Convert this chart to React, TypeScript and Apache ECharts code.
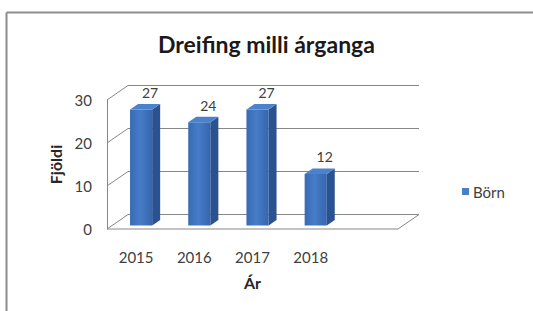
import React, { useEffect, useRef } from "react";
import * as echarts from "echarts";

const categories = ["2015", "2016", "2017", "2018", ""];
const values = [27, 24, 27, 12];
const yTicks = [0, 10, 20, 30];
const seriesName = "Börn";
const titleText = "Dreifing milli árganga";
const xName = "Ár";
const yName = "Fjöldi";

const FONT = "Lato, 'Noto Sans', sans-serif";
const GRID_COLOR = "#878787";
const DX = 21;
const DY = -14.5;

export default function App() {
  const ref = useRef<HTMLDivElement>(null);

  useEffect(() => {
    document.body.style.margin = "0";
    const chart = echarts.init(ref.current!, undefined, { renderer: "svg" });

    const frameRender = (params: any, api: any) => {
      const cs = params.coordSys;
      const x0 = cs.x;
      const x1 = cs.x + cs.width;
      const children: any[] = [];
      const ls = { stroke: GRID_COLOR, lineWidth: 1 };
      yTicks.forEach((v) => {
        const y = api.coord([0, v])[1];
        children.push({ type: "line", shape: { x1: x0 + DX, y1: y + DY, x2: x1 + DX, y2: y + DY }, style: ls });
        children.push({ type: "line", shape: { x1: x0, y1: y, x2: x0 + DX, y2: y + DY }, style: ls });
      });
      const yb = api.coord([0, 0])[1];
      children.push({ type: "line", shape: { x1: x0, y1: yb, x2: x1, y2: yb }, style: ls });
      children.push({ type: "line", shape: { x1: x1, y1: yb, x2: x1 + DX, y2: yb + DY }, style: ls });
      return { type: "group", children };
    };

    const barRender = (params: any, api: any) => {
      const i = api.value(0);
      const v = api.value(1);
      const top = api.coord([i, v]);
      const base = api.coord([i, 0]);
      const band = api.size([1, 0])[0];
      const w = band * 0.38;
      const fx = 5;
      const fy = -3.5;
      const ddx = 8;
      const ddy = -5.5;
      const xl = top[0] - w / 2 + fx;
      const xr = xl + w;
      const yt = top[1] + fy;
      const yb = base[1] + fy;
      const front = new echarts.graphic.LinearGradient(0, 0, 1, 0, [
        { offset: 0, color: "#386ab4" },
        { offset: 0.45, color: "#467cc8" },
        { offset: 1, color: "#3665ae" },
      ]);
      return {
        type: "group",
        children: [
          { type: "rect", shape: { x: xl, y: yt, width: w, height: yb - yt }, style: { fill: front } },
          {
            type: "polygon",
            shape: { points: [[xr, yt], [xr + ddx, yt + ddy], [xr + ddx, yb + ddy], [xr, yb]] },
            style: { fill: "#2a5290" },
          },
          {
            type: "polygon",
            shape: { points: [[xl, yt], [xr, yt], [xr + ddx, yt + ddy], [xl + ddx, yt + ddy]] },
            style: { fill: "#4b82cc" },
          },
          {
            type: "text",
            x: top[0] + fx + 9,
            y: yt - 17,
            style: {
              text: String(v),
              fill: "#404040",
              font: `14px ${FONT}`,
              textAlign: "center",
              textVerticalAlign: "middle",
            },
          },
        ],
      };
    };

    chart.setOption({
      animation: false,
      backgroundColor: "#ffffff",
      title: {
        text: titleText,
        left: "center",
        top: 27,
        textStyle: { fontSize: 23, fontWeight: "bold", color: "#1a1a1a", fontFamily: FONT },
      },
      legend: {
        data: [seriesName],
        left: 457,
        top: 179,
        icon: "rect",
        itemWidth: 7,
        itemHeight: 7,
        itemGap: 4,
        textStyle: { fontSize: 15, color: "#404040", fontFamily: FONT, padding: [0, 0, 0, -1] },
      },
      grid: { left: 107, right: 135, top: 100, bottom: 82 },
      xAxis: {
        type: "category",
        data: categories,
        boundaryGap: true,
        axisLine: { show: false },
        axisTick: { show: false },
        axisLabel: { margin: 20, fontSize: 15, color: "#404040", fontFamily: FONT },
        name: xName,
        nameLocation: "middle",
        nameGap: 45,
        nameTextStyle: { fontSize: 16, fontWeight: "bold", color: "#262626", fontFamily: FONT },
        splitLine: { show: false },
      },
      yAxis: {
        type: "value",
        min: 0,
        max: 30,
        interval: 10,
        axisLine: { show: true, lineStyle: { color: GRID_COLOR, width: 1 } },
        axisTick: { show: false },
        splitLine: { show: false },
        axisLabel: { margin: 15, fontSize: 15, color: "#404040", fontFamily: FONT },
        name: yName,
        nameLocation: "middle",
        nameRotate: 90,
        nameGap: 44,
        nameTextStyle: { fontSize: 16, fontWeight: "bold", color: "#262626", fontFamily: FONT },
      },
      graphic: [
        {
          type: "line",
          shape: { x1: 6.5, y1: 12.5, x2: 533, y2: 12.5 },
          style: { stroke: "#8c8c8c", lineWidth: 2 },
          silent: true,
        },
        {
          type: "line",
          shape: { x1: 6.5, y1: 12.5, x2: 6.5, y2: 311 },
          style: { stroke: "#8c8c8c", lineWidth: 2 },
          silent: true,
        },
      ],
      series: [
        {
          type: "custom",
          name: "frame",
          renderItem: frameRender,
          data: [[0, 0]],
          z: 1,
          silent: true,
        },
        {
          type: "custom",
          name: seriesName,
          renderItem: barRender,
          data: values.map((v, i) => [i, v]),
          itemStyle: { color: "#4a7ec8" },
          z: 2,
        },
      ],
    });

    return () => chart.dispose();
  }, []);

  return <div ref={ref} style={{ position: "absolute", left: 0, top: 0, width: 533, height: 311 }} />;
}
